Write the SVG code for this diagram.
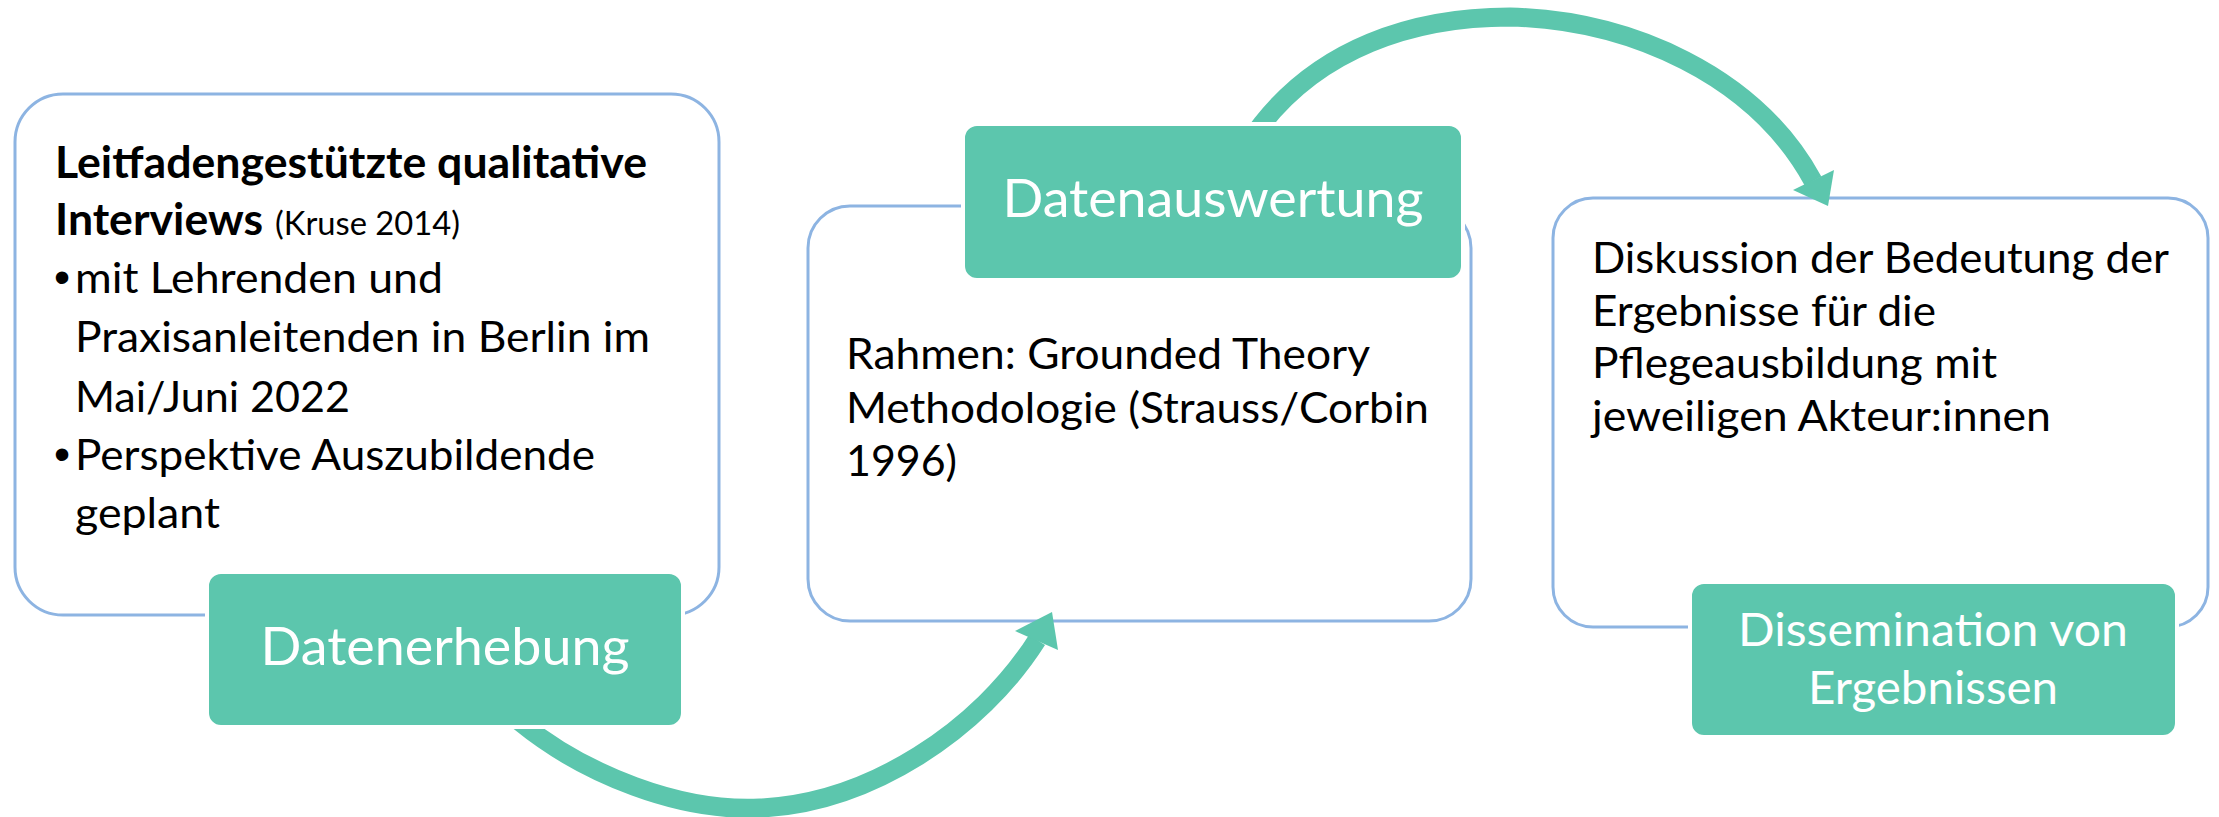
<svg xmlns="http://www.w3.org/2000/svg" width="2219" height="817" viewBox="0 0 2219 817">
<style>
.outline{fill:#FFFFFF;stroke:#8DB4E2;stroke-width:3}
.label{fill:#5CC6AD;stroke:#FFFFFF;stroke-width:4}
.body{font-family:Lato,'Open Sans',sans-serif;font-size:43px;fill:#000000}
.bold{font-weight:bold}
.small{font-size:32.5px}
.bullet{font-family:'Liberation Sans',Arial,sans-serif;font-size:46px;fill:#000000}
.lab{font-family:Lato,'Open Sans',sans-serif;font-size:52px;fill:#FFFFFF;text-anchor:middle}
.lab3{font-size:46.5px}
.arc{fill:none;stroke:#5CC6AD;stroke-width:19}
.head{fill:#5CC6AD}
</style>
<rect width="2219" height="817" fill="#FFFFFF"/>

<g id="box-erhebung">
<rect class="outline" x="15" y="94" width="704" height="521" rx="48" ry="48"/>
<text class="body bold" x="55" y="178" textLength="592" lengthAdjust="spacingAndGlyphs">Leitfadengestützte qualitative</text>
<text class="body bold" x="55" y="235" textLength="208" lengthAdjust="spacingAndGlyphs">Interviews</text>
<text class="body small" x="275" y="235" textLength="185" lengthAdjust="spacingAndGlyphs">(Kruse 2014)</text>
<text class="bullet" x="54" y="293">•</text>
<text class="body" x="75" y="293" textLength="368" lengthAdjust="spacingAndGlyphs">mit Lehrenden und</text>
<text class="body" x="75" y="352" textLength="575" lengthAdjust="spacingAndGlyphs">Praxisanleitenden in Berlin im</text>
<text class="body" x="75" y="412" textLength="275" lengthAdjust="spacingAndGlyphs">Mai/Juni 2022</text>
<text class="bullet" x="54" y="470">•</text>
<text class="body" x="75" y="470" textLength="520" lengthAdjust="spacingAndGlyphs">Perspektive Auszubildende</text>
<text class="body" x="75" y="528" textLength="145" lengthAdjust="spacingAndGlyphs">geplant</text>
</g>

<g id="box-auswertung">
<rect class="outline" x="808" y="206" width="663" height="415" rx="42" ry="42"/>
<text class="body" x="846" y="369" textLength="524" lengthAdjust="spacingAndGlyphs">Rahmen: Grounded Theory</text>
<text class="body" x="846" y="423" textLength="583" lengthAdjust="spacingAndGlyphs">Methodologie (Strauss/Corbin</text>
<text class="body" x="846" y="476" textLength="111" lengthAdjust="spacingAndGlyphs">1996)</text>
</g>

<g id="box-dissemination">
<rect class="outline" x="1553" y="198" width="655" height="429" rx="40" ry="40"/>
<text class="body" x="1592" y="273" textLength="577" lengthAdjust="spacingAndGlyphs">Diskussion der Bedeutung der</text>
<text class="body" x="1592" y="326" textLength="344" lengthAdjust="spacingAndGlyphs">Ergebnisse für die</text>
<text class="body" x="1592" y="378" textLength="405" lengthAdjust="spacingAndGlyphs">Pflegeausbildung mit</text>
<text class="body" x="1592" y="431" textLength="459" lengthAdjust="spacingAndGlyphs">jeweiligen Akteur:innen</text>
</g>

<g id="connectors">
<path class="arc" d="M503,705 L520,722 C585,775 680,812 760,808 C870,803 980,730 1037,640"/>
<polygon class="head" points="1052,612 1015,631 1058,650"/>
<path class="arc" d="M1250,140 L1262,124 C1320,50 1410,17 1510,17 C1630,20 1755,75 1813,181"/>
<polygon class="head" points="1828,206 1793,190 1834,170"/>
</g>

<g id="label-datenerhebung">
<rect class="label" x="207" y="572" width="476" height="155" rx="14" ry="14"/>
<text class="lab" x="445" y="665" textLength="369" lengthAdjust="spacingAndGlyphs">Datenerhebung</text>
</g>

<g id="label-datenauswertung">
<rect class="label" x="963" y="124" width="500" height="156" rx="14" ry="14"/>
<text class="lab" x="1213" y="217" textLength="421" lengthAdjust="spacingAndGlyphs">Datenauswertung</text>
</g>

<g id="label-dissemination">
<rect class="label" x="1690" y="582" width="487" height="155" rx="14" ry="14"/>
<text class="lab lab3" x="1933" y="646" textLength="390" lengthAdjust="spacingAndGlyphs">Dissemination von</text>
<text class="lab lab3" x="1933" y="704" textLength="250" lengthAdjust="spacingAndGlyphs">Ergebnissen</text>
</g>
</svg>
